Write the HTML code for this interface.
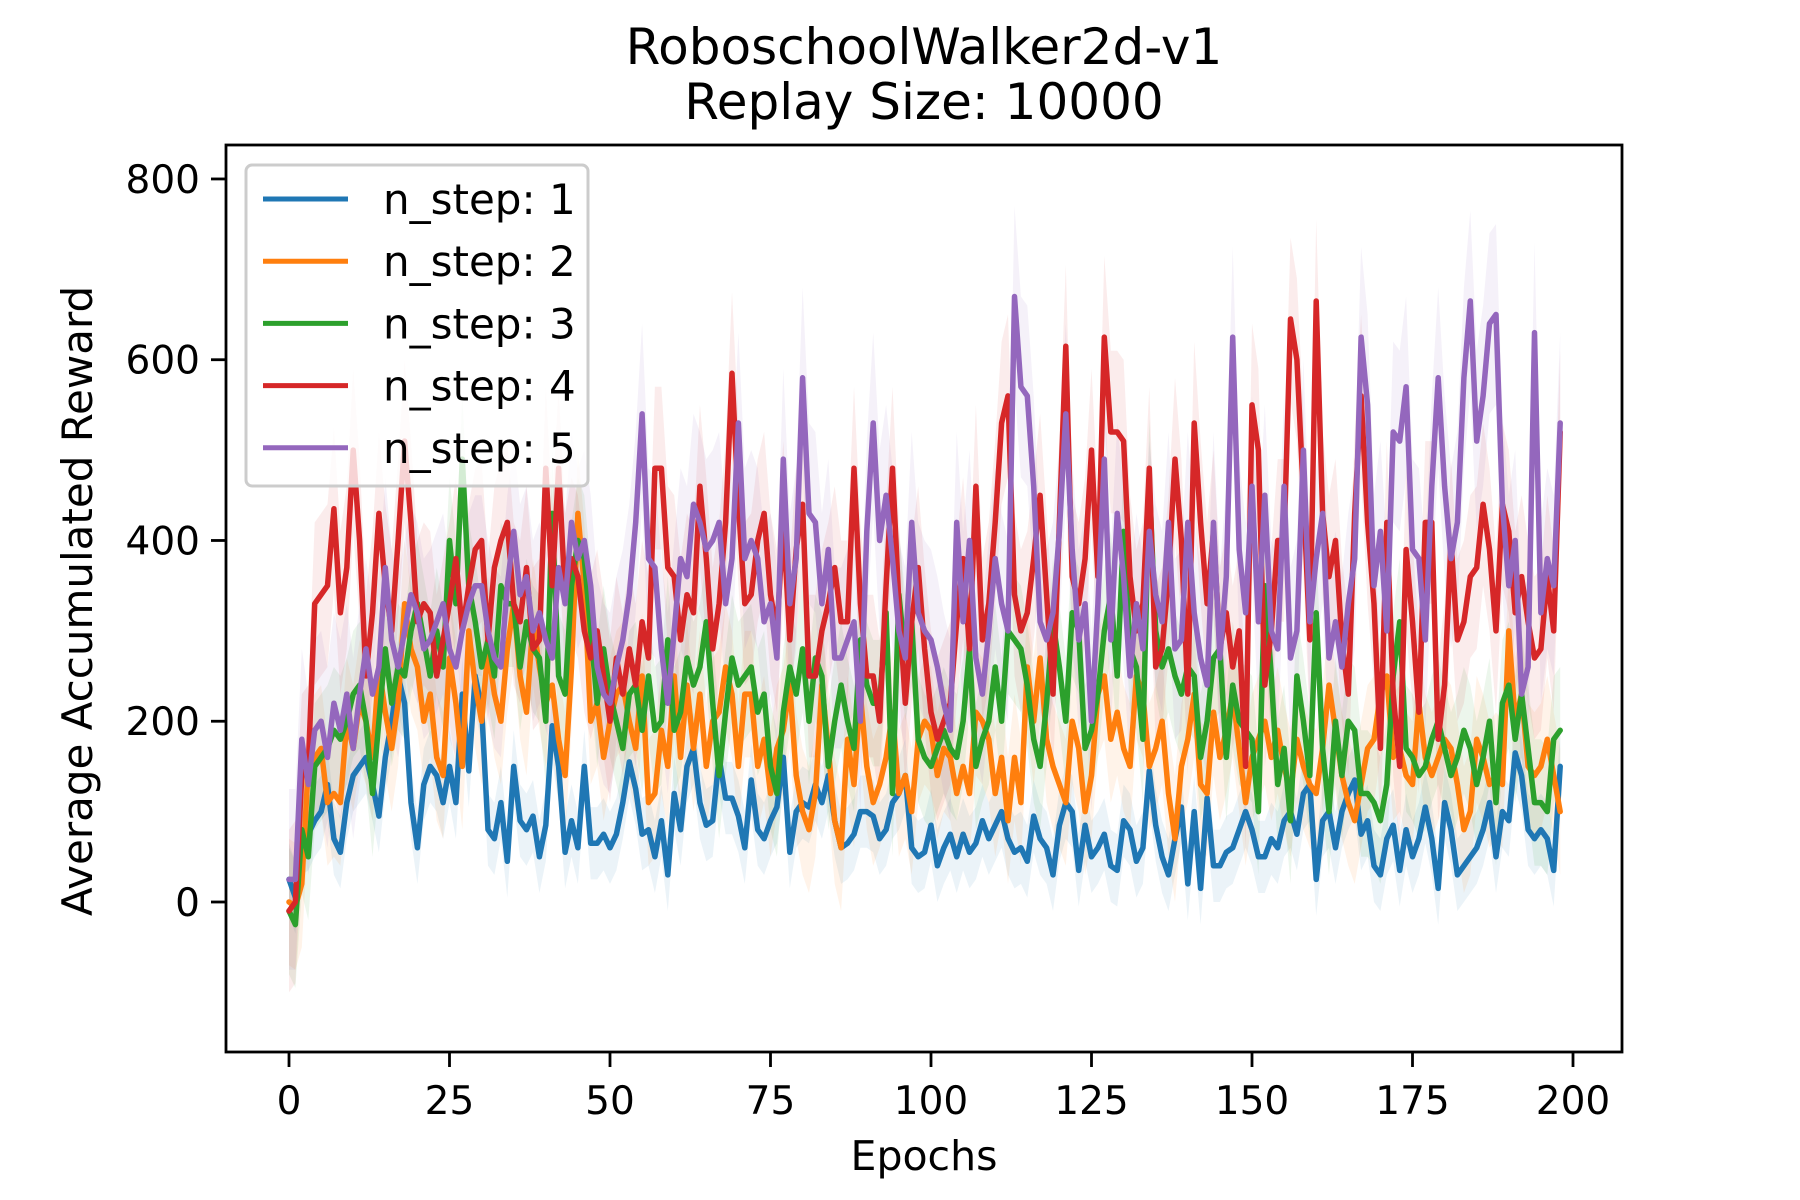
<!DOCTYPE html>
<html><head><meta charset="utf-8">
<style>
html,body{margin:0;padding:0;background:#fff;}
svg{display:block;font-family:"DejaVu Sans","Liberation Sans",sans-serif;}
</style></head>
<body>
<svg id="chart" width="1800" height="1200" viewBox="0 0 1800 1200">
<rect x="0" y="0" width="1800" height="1200" fill="#fff"/>
<text x="924" y="64" font-size="50" text-anchor="middle">RoboschoolWalker2d-v1</text>
<text x="924" y="119" font-size="50" text-anchor="middle">Replay Size: 10000</text>
<g id="bands"></g>
<g id="lines"></g>
<g id="axes"></g>
<rect x="226" y="145" width="1396" height="907" fill="none" stroke="#000" stroke-width="2.8"/>
<text x="924" y="1170" font-size="41" text-anchor="middle">Epochs</text>
<text x="92" y="601" font-size="42" text-anchor="middle" transform="rotate(-90 92 601)">Average Accumulated Reward</text>
<g id="legend">
<rect x="246" y="165" width="342" height="321" rx="6" fill="#fff" fill-opacity="0.8" stroke="#ccc" stroke-width="3"/>
</g>
</svg>
<script>
const seriesNames = ["n_step: 1","n_step: 2","n_step: 3","n_step: 4","n_step: 5"];
const seriesColors = ["#1f77b4","#ff7f0e","#2ca02c","#d62728","#9467bd"];
const bandSpread = [40, 70, 70, 90, 100];
const xTicks = [0,25,50,75,100,125,150,175,200];
const yTicks = [0,200,400,600,800];
const n1 = [25,5,70,75,90,100,130,70,55,110,
140,150,160,130,95,160,200,250,220,110,
60,130,150,140,110,150,110,230,145,250,
215,80,70,110,45,150,90,80,95,50,
85,195,150,55,90,60,150,65,65,75,
60,75,110,155,125,75,80,50,90,30,
120,80,150,170,110,85,90,160,115,115,
95,60,135,80,70,90,105,160,55,100,
110,105,130,110,140,90,60,65,75,100,
100,95,70,80,110,120,140,60,50,55,
85,40,60,75,50,75,55,65,90,70,
85,100,70,55,60,45,95,70,60,30,
85,110,100,35,85,50,60,75,40,35,
90,80,45,60,145,85,50,30,70,105,
20,100,15,115,40,40,55,60,80,100,
80,50,50,70,60,90,100,75,120,130,
25,90,100,60,100,120,135,75,90,40,
30,70,85,35,80,50,70,105,70,15,
110,80,30,40,50,60,80,110,50,100,
90,165,140,80,70,80,70,35,150];
const n2 = [0,-5,20,150,160,170,110,120,110,200,
170,220,200,160,260,210,170,220,330,280,
260,200,230,160,140,270,220,150,300,240,
200,280,230,200,280,330,250,210,310,260,
220,240,180,140,260,430,350,200,220,160,
200,230,240,200,170,250,110,120,190,150,
250,160,240,170,230,150,200,210,260,230,
150,230,230,150,180,120,170,190,240,140,
100,80,120,240,170,90,60,180,130,230,
150,110,130,160,210,120,140,100,180,200,
190,140,170,160,120,150,120,210,200,180,
120,160,90,160,110,260,200,270,180,150,
130,110,200,170,100,140,230,250,180,210,
170,150,250,230,150,170,200,120,70,150,
180,230,130,120,210,160,190,230,170,110,
160,180,200,160,190,150,120,180,150,130,
120,170,240,190,140,110,90,130,170,180,
230,250,160,170,140,130,220,160,140,160,
180,170,130,80,100,180,160,130,140,130,
300,200,230,150,140,150,180,140,100];
const n3 = [-10,-25,80,50,150,160,170,190,180,200,
230,240,200,120,200,280,220,260,250,300,
330,290,250,300,260,400,330,490,350,310,
260,290,250,350,330,330,260,310,280,270,
200,430,250,230,350,400,380,300,220,280,
230,200,170,230,240,190,250,190,200,290,
190,210,270,240,260,310,220,140,210,270,
240,250,260,210,230,150,120,210,260,230,
280,200,270,250,150,200,240,200,170,290,
240,220,220,320,120,340,270,310,180,160,
150,170,190,170,160,200,280,150,180,200,
260,200,300,290,280,240,180,150,220,310,
260,200,320,300,170,190,230,300,340,250,
410,280,260,180,465,300,260,280,250,230,
260,250,160,200,270,280,160,240,200,190,
180,100,350,250,130,170,90,250,200,140,
320,170,100,200,140,200,190,120,120,110,
90,130,250,310,170,160,140,150,180,200,
170,140,160,190,170,130,160,200,110,220,
240,180,230,170,110,110,100,180,190];
const n4 = [-10,0,140,150,330,340,350,435,320,370,
500,400,250,320,430,350,300,400,510,420,
310,330,320,250,290,330,380,300,350,390,
400,290,370,400,420,330,310,370,280,290,
480,350,480,340,380,360,300,270,300,250,
200,270,230,280,240,310,270,480,480,370,
360,290,340,320,460,380,280,330,420,585,
440,330,340,400,430,340,300,420,290,390,
440,250,250,300,330,370,310,310,480,330,
250,250,200,350,480,330,220,310,370,280,
210,180,200,220,310,380,280,460,290,330,
420,530,560,340,300,320,380,450,340,230,
420,615,360,330,380,500,360,625,520,520,
510,360,300,330,480,260,280,360,490,400,
230,530,420,330,410,280,320,260,300,150,
550,500,240,300,400,400,645,600,450,290,
665,430,360,400,290,230,430,560,420,330,
170,420,230,150,390,310,210,420,420,180,
240,400,290,310,360,370,440,390,300,440,
410,320,360,310,270,280,360,300,520];
const n5 = [25,25,180,130,190,200,160,220,190,230,
170,230,280,230,260,370,290,260,300,340,
320,280,290,310,330,280,260,300,330,350,
350,300,270,260,350,410,340,360,300,320,
290,270,370,330,420,380,400,350,260,230,
220,260,290,340,420,540,380,370,280,220,
300,380,360,440,420,390,400,420,330,380,
530,380,400,380,310,330,270,490,330,380,
580,430,420,330,390,270,270,290,310,200,
410,530,400,450,380,300,270,420,320,300,
290,260,220,190,420,310,400,270,230,300,
380,330,300,670,570,560,460,310,290,320,
410,540,390,290,330,200,330,490,290,430,
360,250,330,280,410,340,310,420,280,290,
420,320,270,240,420,270,360,625,390,320,
460,310,450,300,280,460,270,300,500,310,
380,430,270,310,260,330,380,625,550,350,
410,300,520,510,570,390,380,290,460,580,
460,380,420,580,665,510,560,640,650,440,
350,400,230,260,630,320,380,350,530];
const seriesValues = [n1,n2,n3,n4,n5];

const NS = "http://www.w3.org/2000/svg";
function xs(e){ return 289 + 6.42*e; }
function ys(v){ return 902 - v*0.9038; }

const bands = document.getElementById('bands');
const lines = document.getElementById('lines');
const axes = document.getElementById('axes');
const legend = document.getElementById('legend');

seriesValues.forEach((vals,si)=>{
  let top = [], bot = [];
  vals.forEach((v,i)=>{
    top.push(xs(i).toFixed(1)+","+ys(v+bandSpread[si]).toFixed(1));
    bot.unshift(xs(i).toFixed(1)+","+ys(v-bandSpread[si]).toFixed(1));
  });
  const poly = document.createElementNS(NS,'polygon');
  poly.setAttribute('points', top.concat(bot).join(' '));
  poly.setAttribute('fill', seriesColors[si]);
  poly.setAttribute('fill-opacity','0.09');
  
  
  bands.appendChild(poly);
});
seriesValues.forEach((vals,si)=>{
  const pl = document.createElementNS(NS,'polyline');
  pl.setAttribute('points', vals.map((v,i)=>xs(i).toFixed(1)+","+ys(v).toFixed(1)).join(' '));
  pl.setAttribute('fill','none');
  pl.setAttribute('stroke', seriesColors[si]);
  pl.setAttribute('stroke-width','5.5');
  pl.setAttribute('stroke-linejoin','round');
  pl.setAttribute('stroke-linecap','round');
  
  
  lines.appendChild(pl);
});
xTicks.forEach(t=>{
  const l = document.createElementNS(NS,'line');
  l.setAttribute('x1',xs(t)); l.setAttribute('x2',xs(t));
  l.setAttribute('y1',1052); l.setAttribute('y2',1067);
  l.setAttribute('stroke','#000'); l.setAttribute('stroke-width','2.8');
  
  
  axes.appendChild(l);
  const tx = document.createElementNS(NS,'text');
  tx.setAttribute('x',xs(t)); tx.setAttribute('y',1114);
  tx.setAttribute('font-size','39'); tx.setAttribute('text-anchor','middle');
  tx.textContent = t;
  
  
  axes.appendChild(tx);
});
yTicks.forEach(t=>{
  const l = document.createElementNS(NS,'line');
  l.setAttribute('x1',211); l.setAttribute('x2',226);
  l.setAttribute('y1',ys(t)); l.setAttribute('y2',ys(t));
  l.setAttribute('stroke','#000'); l.setAttribute('stroke-width','2.8');
  
  
  axes.appendChild(l);
  const tx = document.createElementNS(NS,'text');
  tx.setAttribute('x',200); tx.setAttribute('y',ys(t)+14);
  tx.setAttribute('font-size','39'); tx.setAttribute('text-anchor','end');
  tx.textContent = t;
  
  
  axes.appendChild(tx);
});
seriesNames.forEach((nm,si)=>{
  const y = 199 + si*62.2;
  const l = document.createElementNS(NS,'line');
  l.setAttribute('x1',263); l.setAttribute('x2',348);
  l.setAttribute('y1',y); l.setAttribute('y2',y);
  l.setAttribute('stroke',seriesColors[si]); l.setAttribute('stroke-width','5');
  
  
  legend.appendChild(l);
  const tx = document.createElementNS(NS,'text');
  tx.setAttribute('x',383); tx.setAttribute('y',y+15);
  tx.setAttribute('font-size','42');
  tx.textContent = nm;
  
  
  legend.appendChild(tx);
});
</script>
</body></html>
